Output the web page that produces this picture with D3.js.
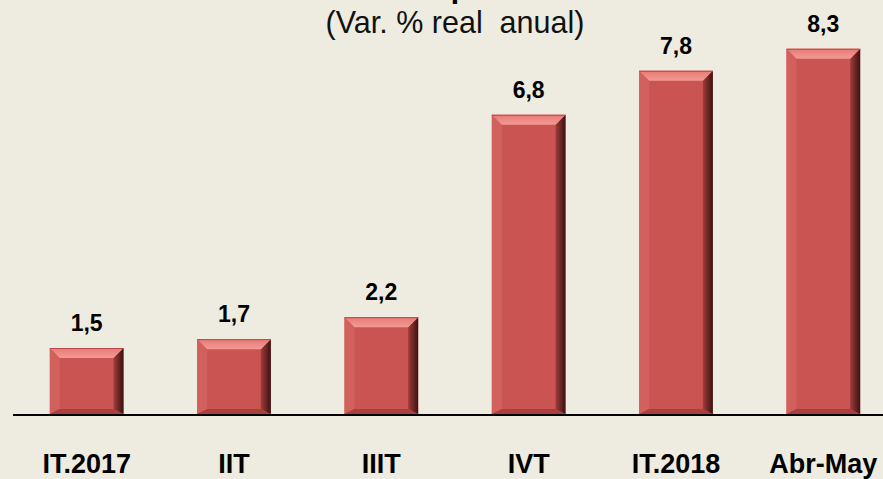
<!DOCTYPE html>
<html>
<head>
<meta charset="utf-8">
<script src="https://cdn.jsdelivr.net/npm/d3@7"></script>
<style>
  body { margin: 0; background: #eeebe0; }
  svg { display: block; font-family: "Liberation Sans", Arial, sans-serif; }
</style>
</head>
<body>
<div id="chart"></div>
<script>
var categories = ["IT.2017", "IIT", "IIIT", "IVT", "IT.2018", "Abr-May"];
var values = [1.5, 1.7, 2.2, 6.8, 7.8, 8.3];
var valueLabels = ["1,5", "1,7", "2,2", "6,8", "7,8", "8,3"];
var subtitle = "(Var. % real  anual)";

var w = 883;
var h = 479;
var base = 414;

var svg = d3.select("#chart").append("svg")
  .attr("width", w).attr("height", h);

svg.append("rect").attr("width", w).attr("height", h).attr("fill", "#eeebe0");

var x = d3.scaleBand().domain(categories)
  .range([13, 897]).paddingInner(0.5).paddingOuter(0.25);
var y = d3.scaleLinear().domain([0, 10]).range([base, base - 440]);

// title sits above the picture, only the descender of its "p" shows
svg.append("text").attr("x", 460).attr("y", -2)
  .attr("text-anchor", "middle").attr("font-size", 30).attr("font-weight", "bold")
  .text("p");

svg.append("text").attr("x", 455).attr("y", 33)
  .attr("text-anchor", "middle").attr("font-size", 30.5).attr("fill", "#111")
  .style("white-space", "pre")
  .text(subtitle);

var bev = 10;
var data = categories.map(function(c, i) {
  return {cat: c, v: values[i], label: valueLabels[i]};
});

var defs = svg.append("defs");
var g1 = defs.append("linearGradient").attr("id", "rightShade")
  .attr("x1", "0").attr("x2", "1").attr("y1", "0").attr("y2", "0");
g1.append("stop").attr("offset", "0%").attr("stop-color", "#a23c3a");
g1.append("stop").attr("offset", "100%").attr("stop-color", "#3a1211");
var g2 = defs.append("linearGradient").attr("id", "topShade")
  .attr("x1", "0").attr("x2", "0").attr("y1", "0").attr("y2", "1");
g2.append("stop").attr("offset", "0%").attr("stop-color", "#e77a76");
g2.append("stop").attr("offset", "100%").attr("stop-color", "#f39a94");

svg.selectAll("g.bar").data(data).enter()
  .append("g").attr("class", "bar").each(function(d) {
    var x0 = x(d.cat), x1 = x0 + x.bandwidth();
    var y0 = y(d.v), y1 = base;
    var sel = d3.select(this);
    var pts = function(a) { return a.map(function(p) { return p.join(","); }).join(" "); };

    sel.append("rect").attr("x", x0).attr("y", y0)
      .attr("width", x1 - x0).attr("height", y1 - y0).attr("fill", "#c95452");
    // left bevel
    sel.append("polygon").attr("fill", "#d2615e")
      .attr("points", pts([[x0, y0], [x0 + bev, y0 + bev], [x0 + bev, y1 - bev / 2], [x0, y1]]));
    // bottom bevel
    sel.append("polygon").attr("fill", "#a9403e")
      .attr("points", pts([[x0, y1], [x0 + bev, y1 - bev / 2], [x1 - bev, y1 - bev / 2], [x1, y1]]));
    // right bevel
    sel.append("polygon").attr("fill", "url(#rightShade)")
      .attr("points", pts([[x1, y0], [x1 - bev, y0 + bev], [x1 - bev, y1 - bev / 2], [x1, y1]]));
    // top bevel
    sel.append("polygon").attr("fill", "url(#topShade)")
      .attr("points", pts([[x0, y0], [x1, y0], [x1 - bev, y0 + bev], [x0 + bev, y0 + bev]]));
    sel.append("line").attr("x1", x0).attr("x2", x1).attr("y1", y0 + 0.5).attr("y2", y0 + 0.5)
      .attr("stroke", "#b84946").attr("stroke-width", 1);

    sel.append("text").attr("x", (x0 + x1) / 2).attr("y", y0 - 17)
      .attr("text-anchor", "middle").attr("font-size", 23).attr("font-weight", "bold")
      .text(d.label);
  });

svg.append("line").attr("x1", 13).attr("x2", w).attr("y1", base + 1).attr("y2", base + 1)
  .attr("stroke", "#000").attr("stroke-width", 2);

svg.selectAll("text.cat").data(categories).enter()
  .append("text").attr("class", "cat")
  .attr("x", function(d) { return x(d) + x.bandwidth() / 2; })
  .attr("y", 473)
  .attr("text-anchor", "middle").attr("font-size", 27).attr("font-weight", "bold")
  .text(function(d) { return d; });
</script>
</body>
</html>
